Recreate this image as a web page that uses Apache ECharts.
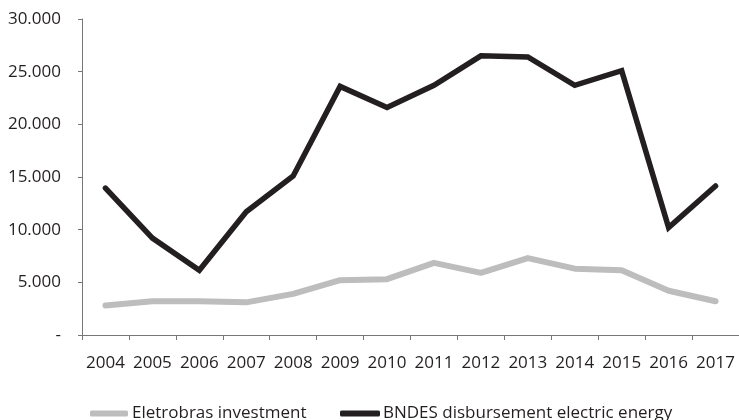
<!DOCTYPE html>
<html>
<head>
<meta charset="utf-8">
<script src="https://cdn.jsdelivr.net/npm/echarts@6/dist/echarts.min.js"></script>
<style>
html,body{margin:0;padding:0;background:#fff;}
#c{width:739px;height:420px;}
</style>
</head>
<body>
<div id="c"></div>
<script>
var years = ['2004','2005','2006','2007','2008','2009','2010','2011','2012','2013','2014','2015','2016','2017'];
var eletrobras = [2800, 3200, 3200, 3100, 3900, 5200, 5300, 6850, 5900, 7300, 6300, 6150, 4200, 3200];
var bndes = [13950, 9200, 6150, 11700, 15100, 23600, 21600, 23700, 26500, 26400, 23700, 25100, 10200, 14150];
var yTicks = {0:'-',5000:'5.000',10000:'10.000',15000:'15.000',20000:'20.000',25000:'25.000',30000:'30.000'};

var FONT = '"Open Sans", "Noto Sans", sans-serif';
var TXT = '#231f20';
var chart = echarts.init(document.getElementById('c'), null, {renderer:'canvas'});
chart.setOption({
  animation: false,
  backgroundColor: '#fff',
  textStyle: {fontFamily: FONT},
  grid: {left: 82, right: -3, top: 19, bottom: 85, containLabel: false},
  legend: [{
    left: 85, top: 400, icon: 'roundRect', itemWidth: 38, itemHeight: 6,
    itemGap: 8,
    textStyle: {fontFamily: FONT, fontSize: 17, color: TXT, padding: [0,0,0,-1]},
    data: ['Eletrobras investment']
  },{
    left: 335, top: 400, icon: 'roundRect', itemWidth: 40, itemHeight: 6,
    textStyle: {fontFamily: FONT, fontSize: 17, color: TXT, padding: [0,0,0,-2]},
    data: ['BNDES disbursement electric energy']
  }],
  xAxis: {
    type: 'category', data: years, boundaryGap: true,
    axisLine: {lineStyle: {color: '#777', width: 1}},
    axisTick: {show: true, length: 5, interval: 0, lineStyle: {color: '#777'}},
    axisLabel: {color: TXT, fontSize: 17, fontFamily: FONT, margin: 20, interval: 0}
  },
  yAxis: {
    type: 'value', min: 0, max: 30000, interval: 5000,
    axisLine: {show: true, lineStyle: {color: '#777', width: 1}},
    axisTick: {show: true, length: 4, lineStyle: {color: '#777'}},
    splitLine: {show: false},
    axisLabel: {color: TXT, fontSize: 17, fontFamily: FONT, margin: 21,
      formatter: function(v){ return yTicks[v] !== undefined ? yTicks[v] : ''; }}
  },
  series: [{
    name: 'Eletrobras investment', type: 'line', data: eletrobras,
    symbol: 'none', color: '#bdbdbd',
    lineStyle: {color: '#bdbdbd', width: 6, cap: 'round', join: 'round'}
  },{
    name: 'BNDES disbursement electric energy', type: 'line', data: bndes,
    symbol: 'none', color: '#231f20',
    lineStyle: {color: '#231f20', width: 5.5, cap: 'round', join: 'miter'}
  }]
});
</script>
</body>
</html>
